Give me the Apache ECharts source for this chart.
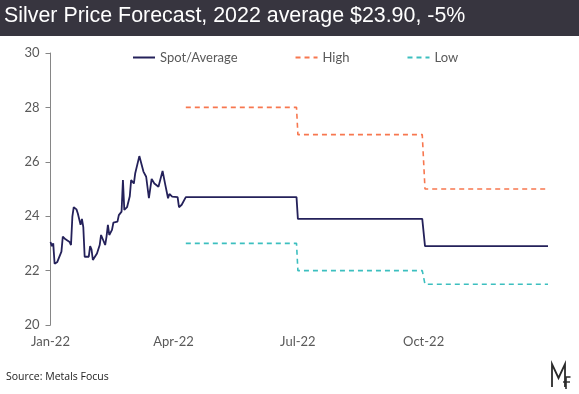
<!DOCTYPE html>
<html>
<head>
<meta charset="utf-8">
<script src="https://cdn.jsdelivr.net/npm/echarts@6/dist/echarts.min.js"></script>
<style>
html,body{margin:0;padding:0;background:#fff;}
#c{width:579px;height:394px;}
</style>
</head>
<body>
<div id="c"></div>
<script>
var title = 'Silver Price Forecast, 2022 average $23.90, -5%';
var source = 'Source: Metals Focus';
var seriesNames = ['Spot/Average', 'High', 'Low'];
var tickDates = ['2022-01-01', '2022-04-01', '2022-07-01', '2022-10-01'];
var tickLabels = ['Jan-22', 'Apr-22', 'Jul-22', 'Oct-22'];

var spotDates = ['2022-01-01','2022-01-02','2022-01-03','2022-01-04','2022-01-06','2022-01-07','2022-01-09','2022-01-10','2022-01-12','2022-01-15','2022-01-16','2022-01-17','2022-01-18','2022-01-20','2022-01-21','2022-01-23','2022-01-24','2022-01-25','2022-01-26','2022-01-29','2022-01-30','2022-01-31','2022-02-01','2022-02-04','2022-02-06','2022-02-07','2022-02-08','2022-02-10','2022-02-11','2022-02-12','2022-02-13','2022-02-15','2022-02-16','2022-02-19','2022-02-20','2022-02-22','2022-02-23','2022-02-24','2022-02-26','2022-02-28','2022-03-01','2022-03-03','2022-03-04','2022-03-07','2022-03-08','2022-03-10','2022-03-12','2022-03-14','2022-03-16','2022-03-18','2022-03-21','2022-03-22','2022-03-24','2022-03-26','2022-03-28','2022-03-29','2022-03-31','2022-04-04','2022-04-05','2022-04-07','2022-04-10','2022-06-30','2022-07-01','2022-09-30','2022-10-02','2022-12-31'];
var spotValues = [23.05,22.90,23.00,22.25,22.32,22.45,22.70,23.25,23.15,23.05,22.94,23.98,24.33,24.25,24.10,23.68,23.90,23.60,22.51,22.51,22.90,22.78,22.39,22.63,22.94,23.31,23.38,22.94,23.25,23.68,23.31,23.50,23.76,23.80,24.04,24.17,25.33,24.23,24.33,24.73,25.33,25.20,25.58,26.21,26.20,25.64,25.45,24.66,25.37,25.20,25.08,25.06,25.66,25.15,24.66,24.82,24.72,24.70,24.33,24.42,24.70,24.70,23.90,23.90,22.90,22.90];

var fcDates = ['2022-04-10','2022-06-30','2022-07-01','2022-09-30','2022-10-02','2022-12-31'];
var highValues = [28,28,27,27,25,25];
var lowValues = [23,23,22,22,21.5,21.5];

// day index counted from 1 Jan 2022 (UTC, so no DST shifts)
function dayIdx(s){ var p = s.split('-'); return Math.round((Date.UTC(+p[0], +p[1]-1, +p[2]) - Date.UTC(2022,0,1)) / 86400000); }
function pairs(d, v){ return d.map(function(x,i){ return [dayIdx(x), v[i]]; }); }
var tickIdx = tickDates.map(dayIdx);

var chart = echarts.init(document.getElementById('c'), null, {renderer:'canvas'});
var labelFont = 'Lato, "Open Sans", sans-serif';
chart.setOption({
  animation:false,
  backgroundColor:'#ffffff',
  grid:{left:50.5, right:31, top:53, bottom:69, containLabel:false},
  legend:{
    left:127, top:46, itemWidth:22, itemHeight:14, itemGap:57,
    itemStyle:{opacity:0},
    textStyle:{color:'#595959', fontSize:13, fontFamily:labelFont},
    data:seriesNames
  },
  xAxis:{
    type:'value', min:dayIdx('2022-01-01'), max:dayIdx('2022-12-31'),
    axisLine:{show:false}, axisTick:{show:false}, splitLine:{show:false},
    axisLabel:{
      customValues:tickIdx, margin:10, color:'#595959', fontSize:13, fontFamily:labelFont,
      formatter:function(v){ var i = tickIdx.indexOf(v); return i>=0 ? tickLabels[i] : ''; }
    }
  },
  yAxis:{
    type:'value', min:20, max:30, interval:2,
    axisLine:{show:true, lineStyle:{color:'#868686', width:1}},
    axisTick:{show:true, length:5, lineStyle:{color:'#868686'}},
    splitLine:{show:false},
    axisLabel:{color:'#595959', fontSize:13, fontFamily:labelFont, margin:11}
  },
  series:[
    {name:seriesNames[0], type:'line', data:pairs(spotDates, spotValues), symbol:'none', showSymbol:false,
      lineStyle:{color:'#24215a', width:1.8}, itemStyle:{color:'#24215a'}},
    {name:seriesNames[1], type:'line', data:pairs(fcDates, highValues), symbol:'none', showSymbol:false,
      lineStyle:{color:'#f7774f', width:1.6, type:[5,4]}, itemStyle:{color:'#f7774f'}},
    {name:seriesNames[2], type:'line', data:pairs(fcDates, lowValues), symbol:'none', showSymbol:false,
      lineStyle:{color:'#3cbfbf', width:1.6, type:[5,4]}, itemStyle:{color:'#3cbfbf'}}
  ],
  graphic:[
    {type:'rect', left:0, top:0, shape:{width:579, height:36}, style:{fill:'#37353f'}, z:-1},
    {type:'text', left:4, top:6, style:{text:title, fill:'#ffffff', fontSize:21.4, fontFamily:'"Liberation Sans", Arial, sans-serif'}},
    {type:'text', left:6, top:372, style:{text:source, fill:'#222222', fontSize:10.5, fontFamily:'"Open Sans", sans-serif'}},
    {type:'polyline', shape:{points:[[552,387],[552,364],[558.5,378],[565,364],[565,387]]}, style:{stroke:'#2a2a2a', lineWidth:1.8, fill:null}},
    {type:'polyline', shape:{points:[[570.5,377],[566,377],[566,389]]}, style:{stroke:'#2a2a2a', lineWidth:1.6, fill:null}},
    {type:'line', shape:{x1:563,y1:382,x2:570,y2:382}, style:{stroke:'#2a2a2a', lineWidth:1.4}}
  ]
});
</script>
</body>
</html>
